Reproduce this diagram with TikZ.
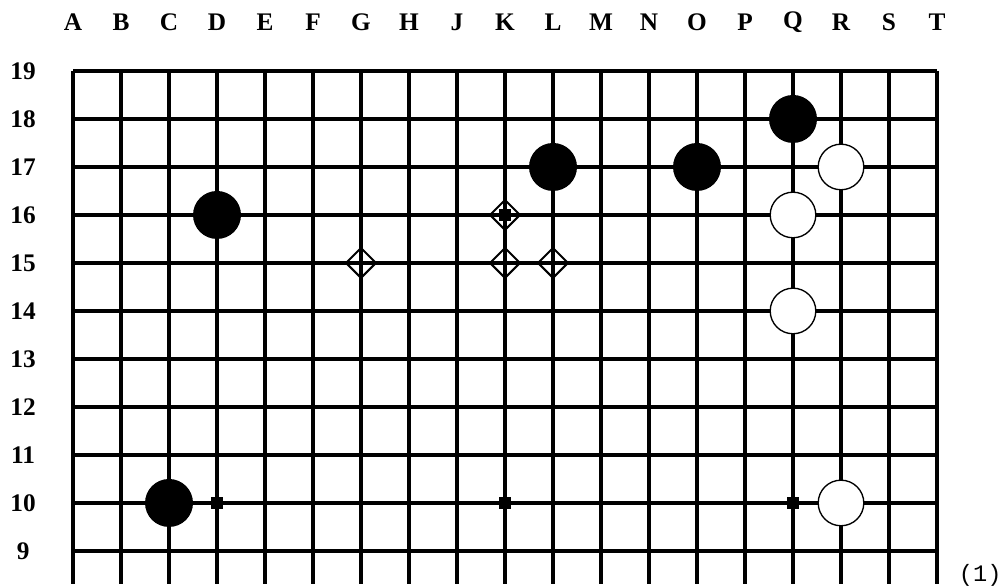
\documentclass[tikz,border=0pt]{standalone}
\usepackage{fontspec}
\setmainfont{Liberation Serif}
\setmonofont{Liberation Mono}
\usetikzlibrary{shapes.geometric}

\begin{document}
\begin{tikzpicture}[
    x=1cm, y=1cm,
    gridline/.style={line width=2.1pt},
    coordlabel/.style={font=\fontsize{15}{15}\selectfont\bfseries,inner sep=0pt},
    blackstone/.style={circle,fill=black,minimum size=1cm,inner sep=0pt},
    whitestone/.style={circle,draw=black,fill=white,line width=0.8pt,
                       minimum size=0.95cm,inner sep=0pt},
    hoshi/.style={rectangle,fill=black,minimum size=0.24cm,inner sep=0pt},
    diamondmark/.style={diamond,draw=black,line width=1.2pt,aspect=1,
                        minimum size=0.64cm,inner sep=0pt},
  ]
  \useasboundingbox (-1.521,8.271) rectangle (19.396,20.479);

  % --- board lines (cut off below row 9) ---
  \foreach \i in {0,...,18}
    \draw[gridline] (\i,19) -- (\i,8.32);
  \foreach \r in {9,...,19}
    \draw[gridline] (0,\r) -- (18,\r);

  % --- column letters and row numbers ---
  \foreach \l [count=\c from 0] in {A,B,C,D,E,F,G,H,J,K,L,M,N,O,P,Q,R,S,T}
    \node[coordlabel] (col\l) at (\c,20.02) {\l};
  \foreach \r in {9,...,19}
    \node[coordlabel] (row\r) at (-1.04,\r) {\r};

  % --- star points ---
  \node[hoshi] (d10) at (3,10) {};
  \node[hoshi] (k10) at (9,10) {};
  \node[hoshi] (q10) at (15,10) {};
  \node[hoshi] (k16) at (9,16) {};

  % --- marked points ---
  \node[diamondmark] (mk16) at (9,16) {};
  \node[diamondmark] (mg15) at (6,15) {};
  \node[diamondmark] (mk15) at (9,15) {};
  \node[diamondmark] (ml15) at (10,15) {};

  % --- black stones ---
  \node[blackstone] (q18) at (15,18) {};
  \node[blackstone] (l17) at (10,17) {};
  \node[blackstone] (o17) at (13,17) {};
  \node[blackstone] (d16) at (3,16) {};
  \node[blackstone] (c10) at (2,10) {};

  % --- white stones ---
  \node[whitestone] (r17) at (16,17) {};
  \node[whitestone] (q16) at (15,16) {};
  \node[whitestone] (q14) at (15,14) {};
  \node[whitestone] (r10) at (16,10) {};

  % --- figure number ---
  \node[font=\ttfamily\fontsize{14}{14}\selectfont,inner sep=0pt] (fignum) at (18.9,8.5) {(1)};

\end{tikzpicture}
\end{document}
